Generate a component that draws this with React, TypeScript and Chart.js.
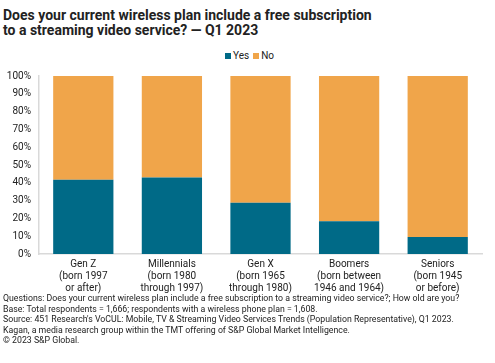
import React, { useEffect, useRef } from "react";
import { Chart, registerables } from "chart.js";

Chart.register(...registerables);

const titleLines = [
  "Does your current wireless plan include a free subscription",
  "to a streaming video service? — Q1 2023",
];
const categories = [
  ["Gen Z", "(born 1997", "or after)"],
  ["Millennials", "(born 1980", "through 1997)"],
  ["Gen X", "(born 1965", "through 1980)"],
  ["Boomers", "(born between", "1946 and 1964)"],
  ["Seniors", "(born 1945", "or before)"],
];
const seriesNames = ["Yes", "No"];
const seriesColors = ["#006a87", "#f0a54a"];
const yesValues = [41.7, 43.0, 28.8, 18.4, 9.5];
const noValues = [58.3, 57.0, 71.2, 81.6, 90.5];
const yTicks = [0, 10, 20, 30, 40, 50, 60, 70, 80, 90, 100];
const footnotes = [
  "Questions: Does your current wireless plan include a free subscription to a streaming video service?; How old are you?",
  "Base: Total respondents = 1,666; respondents with a wireless phone plan = 1,608.",
  "Source: 451 Research's VoCUL: Mobile, TV & Streaming Video Services Trends (Population Representative), Q1 2023.",
  "Kagan, a media research group within the TMT offering of S&P Global Market Intelligence.",
  "© 2023 S&P Global.",
];

const FONT = "Roboto, 'Liberation Sans', sans-serif";
const TEXT = "#222222";

export default function App() {
  const canvasRef = useRef<HTMLCanvasElement | null>(null);

  useEffect(() => {
    document.body.style.margin = "0";
    const canvas = canvasRef.current;
    if (!canvas) return;
    const chart = new Chart(canvas, {
      type: "bar",
      data: {
        labels: categories,
        datasets: [
          {
            label: seriesNames[0],
            data: yesValues,
            backgroundColor: seriesColors[0],
            categoryPercentage: 1,
            barPercentage: 0.68,
          },
          {
            label: seriesNames[1],
            data: noValues,
            backgroundColor: seriesColors[1],
            categoryPercentage: 1,
            barPercentage: 0.68,
          },
        ],
      },
      options: {
        animation: false,
        responsive: false,
        maintainAspectRatio: false,
        layout: { padding: { left: 0, right: 13, top: 32, bottom: 0 } },
        plugins: {
          legend: { display: false },
          tooltip: { enabled: false },
        },
        scales: {
          x: {
            stacked: true,
            grid: { display: false, drawTicks: false },
            border: { display: true, color: "#d9d9d9", width: 1.5 },
            ticks: {
              color: TEXT,
              font: { family: FONT, size: 10, lineHeight: 1.2 },
              padding: 4,
              maxRotation: 0,
              autoSkip: false,
            },
          },
          y: {
            stacked: true,
            min: 0,
            max: 100,
            afterFit: (scale: any) => {
              scale.width = 39;
            },
            afterBuildTicks: (scale: any) => {
              scale.ticks = yTicks.map((v) => ({ value: v }));
            },
            grid: { display: false, drawTicks: false },
            border: { display: true, color: "#d9d9d9", width: 1.5 },
            ticks: {
              color: TEXT,
              font: { family: FONT, size: 10 },
              padding: 8,
              callback: (v: any) => v + "%",
            },
          },
        },
      },
    });
    return () => chart.destroy();
  }, []);

  return (
    <div
      style={{
        position: "relative",
        width: 495,
        height: 363,
        background: "#ffffff",
        fontFamily: FONT,
        color: TEXT,
        overflow: "hidden",
      }}
    >
      <div
        style={{
          position: "absolute",
          left: 3,
          top: 8,
          fontSize: 14,
          fontWeight: 700,
          lineHeight: "15px",
          whiteSpace: "nowrap",
        }}
      >
        {titleLines.map((t, i) => (
          <div key={i}>{t}</div>
        ))}
      </div>
      <div
        style={{
          position: "absolute",
          left: 0,
          top: 50,
          width: 495,
          height: 12,
          display: "flex",
          justifyContent: "center",
          alignItems: "center",
          fontSize: 10,
          lineHeight: "12px",
          paddingLeft: 4,
          boxSizing: "border-box",
        }}
      >
        {seriesNames.map((n, i) => (
          <span
            key={n}
            style={{ display: "flex", alignItems: "center", marginLeft: i ? 4 : 0 }}
          >
            <span
              style={{
                display: "inline-block",
                width: 6,
                height: 6,
                background: seriesColors[i],
                marginRight: 2,
              }}
            />
            {n}
          </span>
        ))}
      </div>
      <canvas
        ref={canvasRef}
        width={495}
        height={254}
        style={{ position: "absolute", left: 0, top: 44, width: 495, height: 254 }}
      />
      <div
        style={{
          position: "absolute",
          left: 3,
          top: 293,
          fontSize: 8.75,
          lineHeight: "10.6px",
          whiteSpace: "nowrap",
        }}
      >
        {footnotes.map((t, i) => (
          <div key={i}>{t}</div>
        ))}
      </div>
    </div>
  );
}
